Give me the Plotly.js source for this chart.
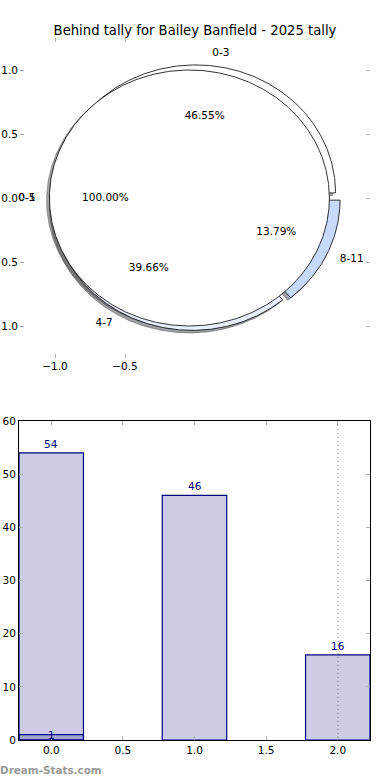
<!DOCTYPE html>
<html>
<head>
<meta charset="utf-8">
<script src="https://cdn.plot.ly/plotly-3.0.1.min.js"></script>
<style>html,body{margin:0;padding:0;background:#fff;}#chart{width:390px;height:780px;}</style>
</head>
<body>
<div id="chart"></div>
<script>
// ---- data ----
const titleText = 'Behind tally for Bailey Banfield - 2025 tally';
const pieLabels = ['0-3', '4-7', '8-11'];
const pieValues = [54, 46, 16];
const pieColors = ['#ffffff', '#e9efff', '#c6d9fb'];
const innerLabels = ['0-1'];
const innerLabelsOverlay = ['0-5'];
const innerValues = [1];
const innerColors = ['#ffffff'];
const barX = [0, 1, 2];
const barValues = [54, 46, 16];
const bar2X = [0];
const bar2Values = [1];
const pieTickVals = [-1, -0.5, 0, 0.5, 1];
const pieTickText = ['\u22121.0', '\u22120.5', '0.0', '0.5', '1.0'];
const pieXTickVals = [-1, -0.5];
const pieXTickText = ['\u22121.0', '\u22120.5'];
const barYTicks = [0, 10, 20, 30, 40, 50, 60];
const barXTicks = [0, 0.5, 1, 1.5, 2];
const barXTickText = ['0.0', '0.5', '1.0', '1.5', '2.0'];

// ---- pie geometry helpers (matplotlib-like) ----
const EXPLODE = 0.04, R = 1, LABEL_D = 1.1, PCT_D = 0.6;
const FONT = 'DejaVu Sans, Liberation Sans, sans-serif';

function shade(hex) {
  const n = parseInt(hex.slice(1), 16);
  const r = ((n >> 16) & 255) * 0.3, g = ((n >> 8) & 255) * 0.3, b = (n & 255) * 0.3;
  return 'rgba(' + Math.round(r) + ',' + Math.round(g) + ',' + Math.round(b) + ',0.5)';
}

function buildPie(values, labels, colors) {
  const total = values.reduce((a, b) => a + b, 0);
  let start = 0;
  const out = [];
  values.forEach((v, i) => {
    const span = 360 * v / total;
    const a1 = start, a2 = start + span;
    const mid = (a1 + a2) / 2 * Math.PI / 180;
    const cx = EXPLODE * Math.cos(mid), cy = EXPLODE * Math.sin(mid);
    const xs = [], ys = [];
    const full = span >= 359.999;
    if (!full) { xs.push(cx); ys.push(cy); }
    const n = Math.max(4, Math.ceil(span * 2));
    for (let k = 0; k <= n; k++) {
      const a = (a1 + span * k / n) * Math.PI / 180;
      xs.push(cx + R * Math.cos(a)); ys.push(cy + R * Math.sin(a));
    }
    if (!full) { xs.push(cx); ys.push(cy); }
    out.push({
      xs, ys, color: colors[i], label: labels[i],
      lx: cx + LABEL_D * R * Math.cos(mid), ly: cy + LABEL_D * R * Math.sin(mid),
      px: cx + PCT_D * R * Math.cos(mid), py: cy + PCT_D * R * Math.sin(mid),
      pct: (100 * v / total).toFixed(2) + '%'
    });
    start = a2;
  });
  return out;
}

const outer = buildPie(pieValues, pieLabels, pieColors);
const inner = buildPie(innerValues, innerLabels, innerColors);

const traces = [];
// shadows first (lower zorder)
[...outer, ...inner].forEach(w => {
  traces.push({
    type: 'scatter', mode: 'lines', x: w.xs.map(v => v - 0.02), y: w.ys.map(v => v - 0.02),
    fill: 'toself', fillcolor: shade(w.color), line: {color: shade(w.color), width: 1},
    xaxis: 'x', yaxis: 'y', hoverinfo: 'skip', showlegend: false
  });
});
// wedges
[...outer, ...inner].forEach(w => {
  traces.push({
    type: 'scatter', mode: 'lines', x: w.xs, y: w.ys,
    fill: 'toself', fillcolor: w.color, line: {color: '#000', width: 0.8},
    xaxis: 'x', yaxis: 'y', hoverinfo: 'skip', showlegend: false
  });
});
// labels
[...outer, ...inner].forEach(w => {
  traces.push({
    type: 'scatter', mode: 'text', x: [w.lx], y: [w.ly], text: [w.label],
    textposition: w.lx > 0 ? 'middle right' : 'middle left',
    textfont: {family: FONT, size: 10.5, color: '#000'},
    xaxis: 'x', yaxis: 'y', hoverinfo: 'skip', showlegend: false, cliponaxis: false
  });
  traces.push({
    type: 'scatter', mode: 'text', x: [w.px], y: [w.py], text: [w.pct],
    textposition: 'middle center',
    textfont: {family: FONT, size: 10.5, color: '#000'},
    xaxis: 'x', yaxis: 'y', hoverinfo: 'skip', showlegend: false, cliponaxis: false
  });
});
// overlapping second label of inner pie
inner.forEach((w, i) => {
  traces.push({
    type: 'scatter', mode: 'text', x: [w.lx], y: [w.ly], text: [innerLabelsOverlay[i]],
    textposition: 'middle left',
    textfont: {family: FONT, size: 10.5, color: '#000'},
    xaxis: 'x', yaxis: 'y', hoverinfo: 'skip', showlegend: false, cliponaxis: false
  });
});

// ---- bars ----
traces.push({
  type: 'bar', x: barX, y: barValues, width: 0.45,
  marker: {color: 'rgba(0,0,128,0.2)', line: {color: '#000080', width: 1.2}},
  xaxis: 'x2', yaxis: 'y2', hoverinfo: 'skip', showlegend: false
});
traces.push({
  type: 'bar', x: bar2X, y: bar2Values, width: 0.45,
  marker: {color: 'rgba(0,0,128,0.2)', line: {color: '#000080', width: 1.2}},
  xaxis: 'x2', yaxis: 'y2', hoverinfo: 'skip', showlegend: false
});
// invisible trace for grid overlay axis
traces.push({
  type: 'scatter', mode: 'markers', x: [2], y: [0], marker: {opacity: 0},
  xaxis: 'x3', yaxis: 'y2', hoverinfo: 'skip', showlegend: false
});

const H = 780, W = 390;
const tickFont = {family: FONT, size: 10.5, color: '#000'};
const barAnnots = barX.map((x, i) => ({
  x: x, y: barValues[i], xref: 'x2', yref: 'y2', text: String(barValues[i]),
  showarrow: false, xanchor: 'center', yanchor: 'bottom', yshift: 1,
  font: {family: FONT, size: 10.5, color: '#000080'}
}));
const bar2Annots = bar2X.map((x, i) => ({
  x: x, y: bar2Values[i], xref: 'x2', yref: 'y2', text: String(bar2Values[i]),
  showarrow: false, xanchor: 'center', yanchor: 'middle', yshift: 0,
  font: {family: FONT, size: 10.5, color: '#000080'}
}));

const layout = {
  width: W, height: H,
  margin: {l: 0, r: 0, t: 0, b: 0},
  paper_bgcolor: '#fff', plot_bgcolor: 'rgba(0,0,0,0)',
  showlegend: false,
  bargap: 0, barmode: 'overlay',
  title: {text: titleText, x: 0.5, xref: 'paper', y: 1 - 30 / H, yref: 'paper', yanchor: 'middle', xanchor: 'center',
          font: {family: FONT, size: 13.2, color: '#000'}},
  xaxis: {
    domain: [20 / W, 370 / W], range: [-1.25, 1.25], anchor: 'y',
    tickvals: pieXTickVals, ticktext: pieXTickText, ticks: 'inside', ticklen: 4, tickcolor: '#b0b0b0',
    showline: false, mirror: 'ticks', showgrid: false, zeroline: false, tickfont: tickFont, fixedrange: true
  },
  yaxis: {
    domain: [1 - 358 / H, 1 - 38 / H], range: [-1.25, 1.25], anchor: 'x',
    tickvals: pieTickVals, ticktext: pieTickText, ticklabelstandoff: 1,
    ticks: 'inside', ticklen: 4, tickcolor: '#b0b0b0',
    showline: false, mirror: 'ticks', showgrid: false, zeroline: false, tickfont: tickFont, fixedrange: true
  },
  xaxis2: {
    domain: [19 / W, 370 / W], range: [-0.225, 2.225], anchor: 'y2',
    tickvals: barXTicks, ticktext: barXTickText,
    ticks: 'inside', ticklen: 4, tickcolor: '#b0b0b0',
    showline: true, linecolor: '#000', linewidth: 1, mirror: 'ticks', showgrid: false, zeroline: false,
    tickfont: tickFont, fixedrange: true
  },
  xaxis3: {
    domain: [19 / W, 370 / W], range: [-0.225, 2.225], anchor: 'y2', overlaying: 'x2',
    tickvals: [2], showticklabels: false, ticks: '', showline: false,
    showgrid: true, gridcolor: '#c8c8c8', griddash: '1px,3px', gridwidth: 1.5, zeroline: false, fixedrange: true
  },
  yaxis2: {
    domain: [1 - 740 / H, 1 - 421 / H], range: [0, 60], anchor: 'x2',
    tickvals: barYTicks,
    ticks: 'inside', ticklen: 4, tickcolor: '#b0b0b0',
    showline: true, linecolor: '#000', linewidth: 1, mirror: 'ticks', showgrid: false, zeroline: false,
    tickfont: tickFont, fixedrange: true
  },
  annotations: [{
    text: '<b>Dream-Stats.com</b>', xref: 'paper', yref: 'paper', x: 0, y: 1 - 770 / H,
    xanchor: 'left', yanchor: 'middle', showarrow: false, xshift: -2,
    font: {family: FONT, size: 10.4, color: '#9a9a9a'}
  }, ...barAnnots, ...bar2Annots]
};

Plotly.newPlot('chart', traces, layout, {displayModeBar: false, staticPlot: true});
</script>
</body>
</html>
